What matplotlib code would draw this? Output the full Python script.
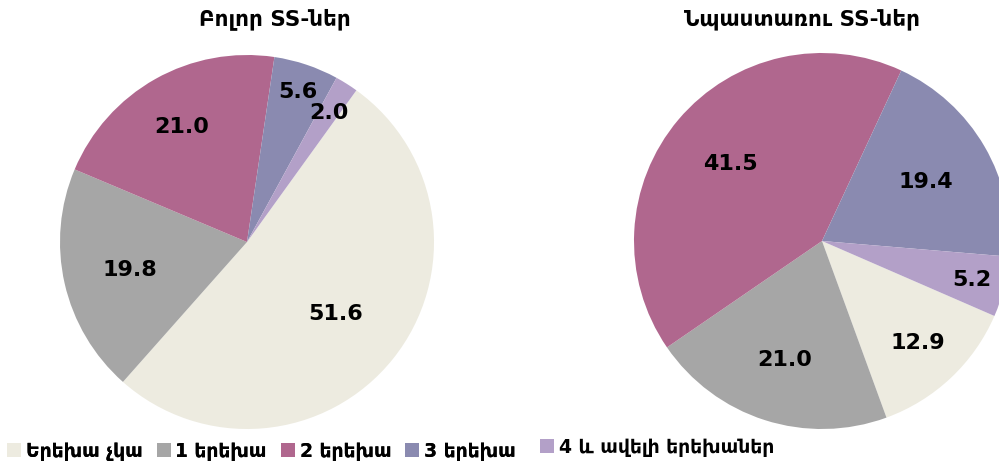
import matplotlib.pyplot as plt
from matplotlib.patches import Patch
import numpy as np

plt.rcParams['font.family'] = ['DejaVu Sans']

categories = ["Երեխա չկա", "1 երեխա", "2 երեխա", "3 երեխա", "4 և ավելի երեխաներ"]
colors = ["#EDEBE0", "#A6A6A6", "#B0678E", "#8A8AB0", "#B3A0C8"]

all_vals = [51.6, 19.8, 21.0, 5.6, 2.0]
benef_vals = [12.9, 21.0, 41.5, 19.4, 5.2]

titles = ["Բոլոր SS-ներ", "Նպաստառու SS-ներ"]

W, H = 999, 464
fig = plt.figure(figsize=(W / 100, H / 100), dpi=100)


def draw_pie(cx, cy, r, vals, start, dists, title, title_x):
    pad = 1.05
    ax = fig.add_axes([(cx - r * pad) / W, (H - cy - r * pad) / H,
                       2 * r * pad / W, 2 * r * pad / H])
    wedges, _ = ax.pie(vals, colors=colors, startangle=start, counterclock=False,
                       radius=1.0, wedgeprops=dict(linewidth=0))
    ax.set_xlim(-pad, pad)
    ax.set_ylim(-pad, pad)
    ax.axis('off')
    for w, v, d in zip(wedges, vals, dists):
        a = np.deg2rad((w.theta1 + w.theta2) / 2)
        ax.text(d * np.cos(a), d * np.sin(a), f"{v:.1f}", ha='center', va='center',
                fontsize=16, fontweight='bold', color='black')
    fig.text(title_x / W, 1 - 19 / H, title, ha='center', va='center',
             fontsize=15.5, fontweight='bold')


draw_pie(247, 243, 187, all_vals, 54.2, [0.61, 0.64, 0.71, 0.85, 0.82],
         titles[0], 275)
draw_pie(822, 242, 188, benef_vals, -23.5, [0.74, 0.66, 0.64, 0.64, 0.82],
         titles[1], 802)

handles = [Patch(facecolor=c, edgecolor='none') for c in colors]
leg1 = fig.legend(handles[:4], categories[:4], loc='center left',
                  bbox_to_anchor=(7 / W, 1 - 452 / H), ncol=4, frameon=False,
                  prop=dict(size=13.5, weight='bold'), handlelength=0.75,
                  handleheight=0.75, handletextpad=0.25, columnspacing=0.75,
                  borderaxespad=0, borderpad=0)
fig.add_artist(leg1)
fig.legend(handles[4:], categories[4:], loc='center left',
           bbox_to_anchor=(540 / W, 1 - 448 / H), ncol=1, frameon=False,
           prop=dict(size=13.5, weight='bold'), handlelength=0.75,
           handleheight=0.75, handletextpad=0.25, borderaxespad=0, borderpad=0)

fig.savefig("out.png", dpi=100)
